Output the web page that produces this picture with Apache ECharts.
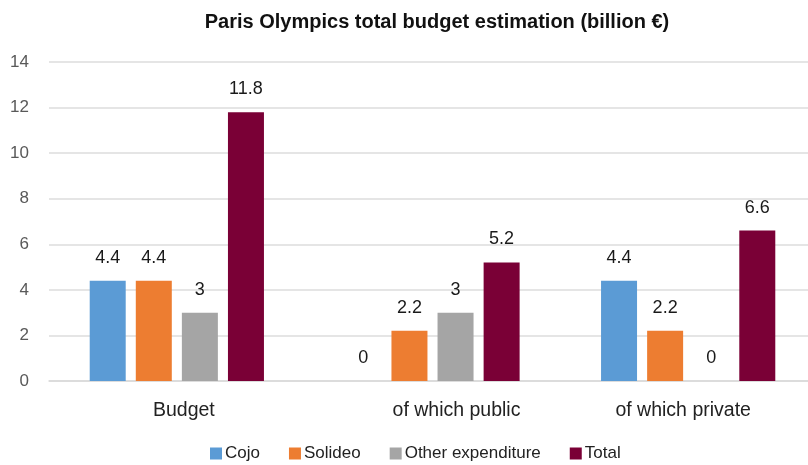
<!DOCTYPE html>
<html><head><meta charset="utf-8">
<script src="https://cdn.jsdelivr.net/npm/echarts@6/dist/echarts.min.js"></script>
<style>html,body{margin:0;padding:0;background:#fff;overflow:hidden}#c{width:816px;height:465px}</style>
</head><body><div id="c"></div>
<script>
const categories = ['Budget', 'of which public', 'of which private'];
const cojo = [4.4, 0, 4.4];
const solideo = [4.4, 2.2, 2.2];
const other = [3, 3, 0];
const total = [11.8, 5.2, 6.6];
const yTicks = [0, 2, 4, 6, 8, 10, 12, 14];
const labelShift = [14, 48, -10];

const chart = echarts.init(document.getElementById('c'), null, {renderer: 'canvas'});
const font = '"Liberation Sans", Arial, sans-serif';
function mk(name, data, color) {
  return {
    name, type: 'bar', data, barWidth: 36, barGap: '28%',
    itemStyle: {color},
    label: {show: true, position: 'top', distance: 14, fontSize: 18, color: '#1a1a1a', fontFamily: font}
  };
}
chart.setOption({
  animation: false,
  textStyle: {fontFamily: font},
  title: {text: 'Paris Olympics total budget estimation (billion €)', left: 432, top: 7, textAlign: 'center',
    textStyle: {fontSize: 20, fontWeight: 'bold', color: '#111', fontFamily: font}},
  legend: {bottom: -2, left: 205, itemWidth: 12, itemHeight: 12, itemGap: 29, icon: 'rect',
    textStyle: {fontSize: 17, color: '#222', padding: [0, 0, 0, -2]}},
  grid: {left: 49, right: 0, top: 62, bottom: 84, containLabel: false},
  xAxis: {type: 'category', data: categories.map((c, i) => ({value: c, textStyle: {padding: labelShift[i] >= 0 ? [0, 0, 0, labelShift[i]] : [0, -labelShift[i], 0, 0]}})),
    axisLine: {show: true, lineStyle: {color: '#d9d9d9', width: 1.5}}, axisTick: {show: false},
    axisLabel: {fontSize: 19.5, color: '#222', margin: 20}},
  yAxis: {type: 'value', min: yTicks[0], max: yTicks[yTicks.length - 1], interval: 2,
    axisLine: {show: false}, axisTick: {show: false},
    axisLabel: {fontSize: 17, color: '#595959', margin: 20},
    splitLine: {lineStyle: {color: '#dcdcdc', width: 1.5}}},
  series: [
    mk('Cojo', cojo, '#5b9bd5'),
    mk('Solideo', solideo, '#ed7d31'),
    mk('Other expenditure', other, '#a5a5a5'),
    mk('Total', total, '#7a0036')
  ]
});
</script></body></html>
